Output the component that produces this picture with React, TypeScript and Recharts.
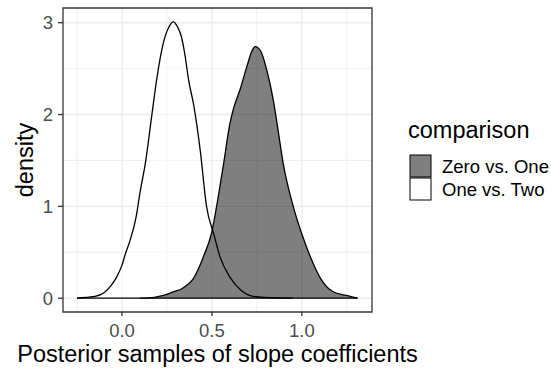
import React from 'react';
import {
  ComposedChart, Area, XAxis, YAxis, CartesianGrid, ReferenceArea, ReferenceLine, Label,
} from 'recharts';

// density estimates
const oneTwoX = [-0.25, -0.2, -0.15, -0.1, -0.06, -0.03, 0.0, 0.02, 0.045, 0.08, 0.1, 0.13, 0.165, 0.195, 0.23, 0.26, 0.285, 0.31, 0.33, 0.35, 0.37, 0.4, 0.435, 0.47, 0.51, 0.545, 0.6, 0.66, 0.73, 0.84, 0.95];
const oneTwoY = [0, 0.01, 0.02, 0.06, 0.14, 0.23, 0.36, 0.49, 0.63, 0.9, 1.15, 1.47, 1.98, 2.41, 2.78, 2.95, 3.01, 2.95, 2.85, 2.65, 2.38, 2.09, 1.61, 1.0, 0.7, 0.45, 0.23, 0.09, 0.02, 0.005, 0];

const zeroOneX = [0.1, 0.18, 0.23, 0.285, 0.33, 0.36, 0.396, 0.425, 0.452, 0.498, 0.526, 0.563, 0.6, 0.618, 0.656, 0.7, 0.72, 0.74, 0.76, 0.776, 0.804, 0.841, 0.87, 0.896, 0.952, 0.998, 1.054, 1.109, 1.174, 1.248, 1.31];
const zeroOneY = [0, 0.01, 0.03, 0.07, 0.1, 0.14, 0.21, 0.32, 0.45, 0.71, 1.0, 1.44, 1.9, 2.05, 2.27, 2.56, 2.68, 2.74, 2.72, 2.67, 2.49, 2.16, 1.8, 1.47, 1.0, 0.71, 0.42, 0.2, 0.07, 0.03, 0];

const xTicks = [0, 0.5, 1];
const xMinor = [-0.25, 0.25, 0.75, 1.25];
const yTicks = [0, 1, 2, 3];
const yMinor = [0.5, 1.5, 2.5];
const xDomain: [number, number] = [-0.328, 1.39];
const yDomain: [number, number] = [-0.15, 3.16];

const legendItems = [
  { name: 'Zero vs. One', fill: '#7F7F7F' },
  { name: 'One vs. Two', fill: '#FFFFFF' },
];

// merge both curves into one table keyed on x
const rows: { x: number; oneTwo?: number; zeroOne?: number }[] = [];
oneTwoX.forEach((x, i) => rows.push({ x, oneTwo: oneTwoY[i] }));
zeroOneX.forEach((x, i) => rows.push({ x, zeroOne: zeroOneY[i] }));
rows.sort((a, b) => a.x - b.x);

const font = '"Liberation Sans", Arial, Helvetica, sans-serif';
const tickStyle = { fill: '#4D4D4D', fontSize: 18.5, fontFamily: font };

export default function App() {
  return (
    <div style={{ position: 'absolute', left: 0, top: 0, width: 551, height: 368, background: '#fff', fontFamily: font }}>
      <ComposedChart width={551} height={368} data={rows} margin={{ top: 8, right: 179, bottom: 0, left: 0 }}>
        <CartesianGrid stroke="#EBEBEB" strokeWidth={0.8} horizontalValues={yMinor} verticalValues={xMinor} />
        <CartesianGrid stroke="#EBEBEB" strokeWidth={1.4} horizontalValues={yTicks} verticalValues={xTicks} />
        <XAxis
          dataKey="x" type="number" domain={xDomain} ticks={xTicks} allowDataOverflow
          height={56} axisLine={false} tickLine={{ stroke: '#333333', strokeWidth: 1.3 }}
          tickSize={4} tickMargin={8} tick={tickStyle}
          tickFormatter={(v: number) => v.toFixed(1)}
        >
          <Label value="Posterior samples of slope coefficients" position="insideBottom" offset={6}
            style={{ fill: '#000', fontSize: 23.5, fontFamily: font }} />
        </XAxis>
        <YAxis
          type="number" domain={yDomain} ticks={yTicks} allowDataOverflow
          width={63} axisLine={false} tickLine={{ stroke: '#333333', strokeWidth: 1.3 }}
          tickSize={5} tickMargin={5} tick={tickStyle}
        >
          <Label value="density" angle={-90} position="insideLeft" offset={25}
            style={{ fill: '#000', fontSize: 23.5, fontFamily: font, textAnchor: 'middle' }} />
        </YAxis>
        <Area dataKey="oneTwo" type="monotone" connectNulls baseValue={0}
          fill="#FFFFFF" fillOpacity={0.5} stroke="#000" strokeWidth={1.3} isAnimationActive={false} />
        <Area dataKey="zeroOne" type="monotone" connectNulls baseValue={0}
          fill="#000" fillOpacity={0.5} stroke="#000" strokeWidth={1.3} isAnimationActive={false} />
        <ReferenceLine segment={[{ x: oneTwoX[0], y: 0 }, { x: zeroOneX[zeroOneX.length - 1], y: 0 }]}
          stroke="#000" strokeWidth={1.3} />
        <ReferenceArea x1={xDomain[0]} x2={xDomain[1]} y1={yDomain[0]} y2={yDomain[1]}
          fill="none" stroke="#333333" strokeWidth={1.3} />
      </ComposedChart>
      <svg width={551} height={368} style={{ position: 'absolute', left: 0, top: 0, pointerEvents: 'none' }}>
        <text x={408} y={138} fontSize={23.5} fontFamily={font} fill="#000">comparison</text>
        {legendItems.map((it, i) => (
          <g key={it.name}>
            <rect x={410} y={155 + i * 23} width={21} height={22} fill={it.fill} stroke="#000" strokeWidth={1} />
            <text x={442} y={173 + i * 23} fontSize={18.5} fontFamily={font} fill="#000">{it.name}</text>
          </g>
        ))}
      </svg>
    </div>
  );
}
